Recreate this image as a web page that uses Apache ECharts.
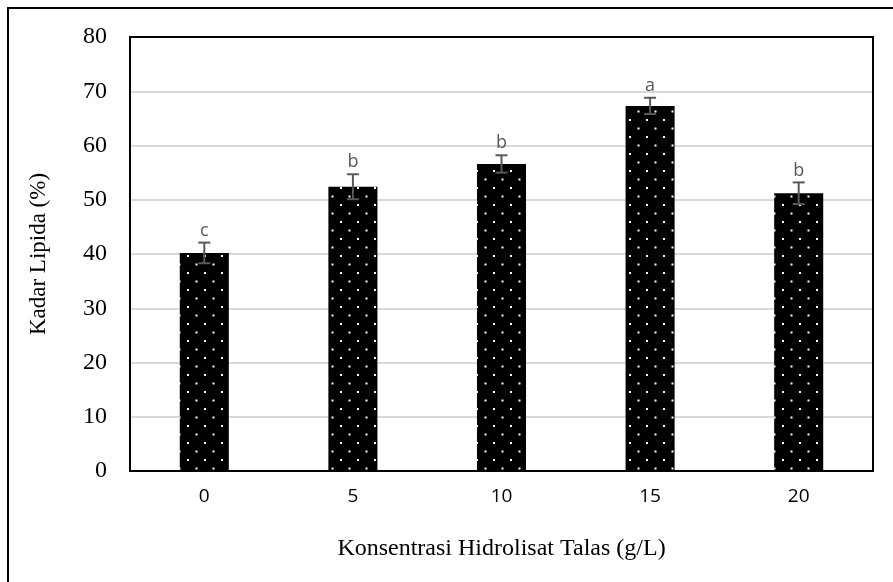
<!DOCTYPE html>
<html><head><meta charset="utf-8">
<script src="https://cdn.jsdelivr.net/npm/echarts@6/dist/echarts.min.js"></script>
<style>html,body{margin:0;padding:0;background:#fff}#c{width:893px;height:582px}</style>
</head><body><div id="c"></div>
<script>
const categories = ['0', '5', '10', '15', '20'];
const values = [40.2, 52.4, 56.6, 67.3, 51.2];
const errors = [1.9, 2.3, 1.6, 1.5, 2.0];
const letters = ['c', 'b', 'b', 'a', 'b'];
const yTicks = [0, 10, 20, 30, 40, 50, 60, 70, 80];

// dotted pattern
const pc = document.createElement('canvas');
pc.width = 17; pc.height = 17;
const pctx = pc.getContext('2d');
pctx.fillStyle = '#000'; pctx.fillRect(0, 0, 17, 17);
pctx.fillStyle = '#fff';
pctx.fillRect(0, 0, 2, 2);
pctx.fillRect(8.5, 8.5, 2, 2);

const chart = echarts.init(document.getElementById('c'));
chart.setOption({
  animation: false,
  graphic: [{
    type: 'rect', shape: {x: 8, y: 8, width: 1000, height: 1000},
    style: {fill: 'none', stroke: '#000', lineWidth: 2}, z: 100, silent: true
  }, {
    type: 'rect', shape: {x: 130, y: 37, width: 743, height: 434},
    style: {fill: 'none', stroke: '#000', lineWidth: 2}, z: 100, silent: true
  }],
  grid: {left: 130, right: 20, top: 37, bottom: 111, containLabel: false},
  xAxis: {
    type: 'category', data: categories,
    axisLine: {show: true, lineStyle: {color: '#000', width: 2}},
    axisTick: {show: false},
    axisLabel: {color: '#000', fontFamily: 'Open Sans', fontSize: 19, margin: 16},
    name: 'Konsentrasi Hidrolisat Talas (g/L)', nameLocation: 'middle', nameGap: 66,
    nameTextStyle: {color: '#000', fontFamily: 'Liberation Serif', fontSize: 24}
  },
  yAxis: {
    type: 'value', min: 0, max: 80, interval: 10,
    axisLine: {show: false}, axisTick: {show: false},
    splitLine: {lineStyle: {color: '#d9d9d9', width: 2}},
    axisLabel: {color: '#000', fontFamily: 'Liberation Serif', fontSize: 24, margin: 23,
      formatter: v => yTicks.includes(v) ? String(v) : ''},
    name: 'Kadar Lipida (%)', nameLocation: 'middle', nameGap: 80, nameRotate: 90,
    nameTextStyle: {color: '#000', fontFamily: 'Liberation Serif', fontSize: 23}
  },
  series: [{
    type: 'bar', data: values, barWidth: '33%',
    itemStyle: {color: {image: pc, repeat: 'repeat'}}
  }, {
    type: 'custom',
    data: values.map((v, i) => [i, v, errors[i], letters[i]]),
    renderItem: function (params, api) {
      const i = api.value(0), v = api.value(1), e = api.value(2);
      const top = api.coord([i, v + e]);
      const bot = api.coord([i, v - e]);
      const x = top[0], hw = 6;
      const st = {stroke: '#595959', lineWidth: 2};
      return {type: 'group', children: [
        {type: 'line', shape: {x1: x, y1: top[1], x2: x, y2: bot[1]}, style: st},
        {type: 'line', shape: {x1: x - hw, y1: top[1], x2: x + hw, y2: top[1]}, style: st},
        {type: 'line', shape: {x1: x - hw, y1: bot[1], x2: x + hw, y2: bot[1]}, style: st},
        {type: 'text', style: {text: letters[params.dataIndex], x: x, y: top[1] - 3,
          textAlign: 'center', textVerticalAlign: 'bottom', fill: '#595959',
          font: '18px "Open Sans"'}}
      ]};
    },
    z: 10
  }]
});
</script></body></html>
